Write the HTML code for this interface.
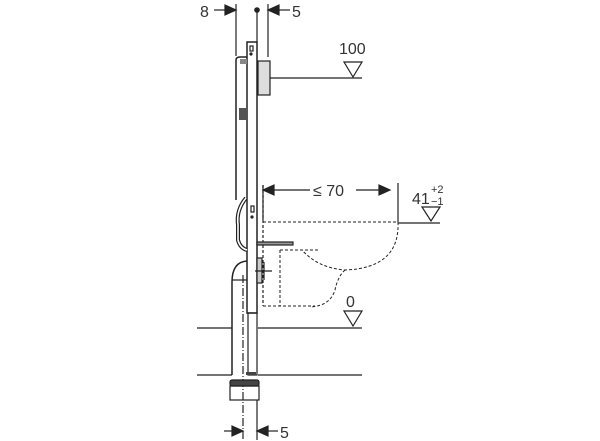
<!DOCTYPE html>
<html><head><style>body{margin:0;background:#fff}svg{display:block}text{font-family:"Liberation Sans",sans-serif;fill:#333}</style></head><body>
<svg width="600" height="441" viewBox="0 0 600 441" xmlns="http://www.w3.org/2000/svg" stroke="#222" fill="none" stroke-width="1.2">
<!-- top dims -->
<text x="200" y="17" font-size="16" stroke="none">8</text>
<line x1="214" y1="10" x2="226" y2="10"/><polygon points="225,5 236,10 225,15" fill="#222"/>
<line x1="236" y1="4" x2="236" y2="56"/>
<circle cx="257" cy="10" r="2.2" fill="#222"/><line x1="257" y1="10" x2="257" y2="42"/>
<line x1="268" y1="4" x2="268" y2="57"/>
<polygon points="279,5 268,10 279,15" fill="#222"/><line x1="279" y1="10" x2="290" y2="10"/>
<text x="292" y="17" font-size="16" stroke="none">5</text>
<!-- frame -->
<rect x="247" y="42" width="10" height="271" stroke-width="1.5"/>
<rect x="248" y="313" width="9" height="62"/>
<path d="M236,200 V60 Q236,57 240,57 H247" stroke-width="1.5"/>
<rect x="240" y="59" width="7" height="5" fill="#888" stroke="none"/>
<rect x="239" y="108" width="8" height="12" fill="#555" stroke="none"/>
<rect x="250" y="46" width="3" height="5"/><circle cx="251" cy="54" r="1" fill="#222"/>
<rect x="251" y="206" width="3" height="6"/><circle cx="252" cy="217" r="1" fill="#222"/>
<!-- inlet -->
<rect x="258" y="61" width="12" height="34" fill="#ddd"/>
<line x1="270" y1="78" x2="362" y2="78"/>
<text x="339" y="54" font-size="16" stroke="none">100</text>
<polygon points="344,62 362,62 353,77"/>
<!-- hose -->
<path d="M246,198 Q236,210 238,225 L238,240 Q240,248 247,250" stroke-width="4"/>
<path d="M246,198 Q236,210 238,225 L238,240 Q240,248 247,250" stroke="#fff" stroke-width="1.6"/>
<!-- ≤70 -->
<line x1="263" y1="185" x2="263" y2="306" stroke-dasharray="3,2"/>
<line x1="263" y1="185" x2="263" y2="220"/>
<polygon points="274,185 263,190 274,195" fill="#222"/>
<line x1="274" y1="190" x2="310" y2="190"/>
<text x="313" y="196" font-size="16" stroke="none">≤ 70</text>
<line x1="356" y1="190" x2="380" y2="190"/>
<polygon points="379,185 390,190 379,195" fill="#222"/>
<line x1="398" y1="183" x2="398" y2="222"/>
<text x="412" y="204" font-size="16" stroke="none">41</text>
<text x="431" y="193" font-size="11" stroke="none">+2</text>
<text x="431" y="205" font-size="11" stroke="none">−1</text>
<polygon points="422,207 440,207 431,221"/>
<line x1="398" y1="223" x2="440" y2="223"/>
<!-- bowl dashed -->
<g stroke-dasharray="3,2" stroke-width="1">
<line x1="263" y1="222" x2="398" y2="222"/>
<path d="M398,222 Q400,268 345,270 Q318,268 302,250"/>
<path d="M280,250 H318"/>
<line x1="280" y1="250" x2="280" y2="306"/>
<line x1="263" y1="306" x2="315" y2="306"/>
<path d="M345,270 Q338,276 335,290 Q330,306 310,307"/>
</g>
<rect x="257" y="242" width="36" height="3" fill="#999"/>
<rect x="257" y="258" width="5" height="25" fill="#ccc"/>
<line x1="255" y1="271" x2="272" y2="271"/><line x1="264" y1="262" x2="264" y2="280"/>
<!-- pipe -->
<path d="M232,375 V282 Q232,262 247,261" stroke-width="1.5"/>
<line x1="232" y1="280" x2="247" y2="280"/>
<line x1="243" y1="275" x2="243" y2="440" stroke-dasharray="8,2,1,2"/>
<!-- floors -->
<line x1="197" y1="328" x2="232" y2="328"/><line x1="258" y1="328" x2="362" y2="328"/>
<text x="346" y="307" font-size="16" stroke="none">0</text>
<polygon points="344,311 362,311 353,326"/>
<line x1="197" y1="375" x2="232" y2="375"/><line x1="258" y1="375" x2="362" y2="375"/>
<rect x="246" y="372" width="10" height="3" fill="#444" stroke="none"/>
<!-- connector -->
<rect x="230" y="380" width="29" height="6" rx="2" fill="#444"/>
<rect x="230" y="386" width="29" height="14"/>
<!-- bottom dims -->
<line x1="257" y1="400" x2="257" y2="440"/>
<line x1="224" y1="431" x2="233" y2="431"/><polygon points="232,426 243,431 232,436" fill="#222"/>
<polygon points="268,426 257,431 268,436" fill="#222"/><line x1="268" y1="431" x2="278" y2="431"/>
<text x="280" y="438" font-size="16" stroke="none">5</text>
</svg>
</body></html>
